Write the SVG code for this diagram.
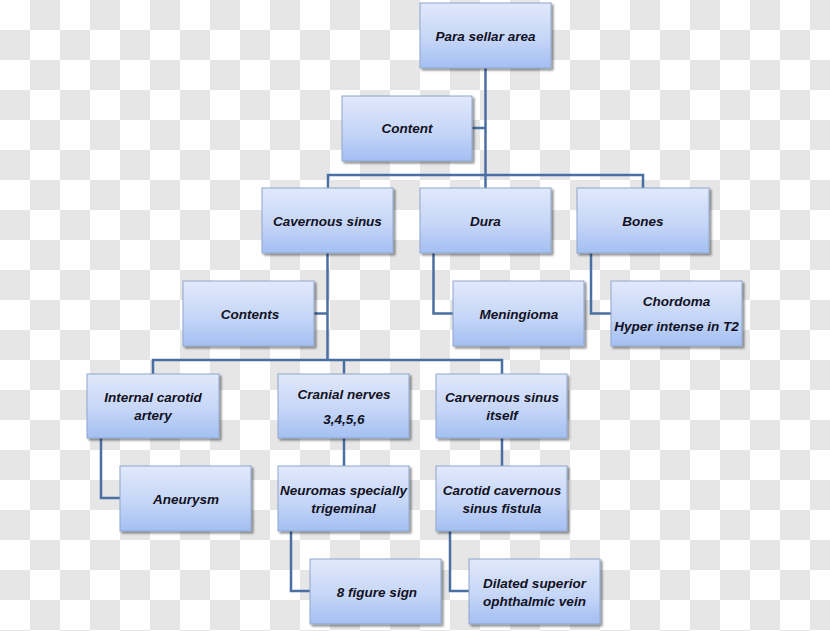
<svg xmlns="http://www.w3.org/2000/svg" width="830" height="631" viewBox="0 0 830 631">
<defs>
<pattern id="checker" x="0" y="0" width="60" height="60" patternUnits="userSpaceOnUse">
<rect width="60" height="60" fill="#ffffff"/>
<rect x="30" y="0" width="30" height="30" fill="#e6e6e6"/>
<rect x="0" y="30" width="30" height="30" fill="#e6e6e6"/>
</pattern>
<linearGradient id="boxgrad" x1="0" y1="0" x2="0" y2="1">
<stop offset="0" stop-color="#e1e9fb"/>
<stop offset="0.55" stop-color="#c6d6f7"/>
<stop offset="1" stop-color="#a3bff2"/>
</linearGradient>
<filter id="shadow" x="-10%" y="-10%" width="130%" height="130%">
<feGaussianBlur in="SourceAlpha" stdDeviation="1.2"/>
<feOffset dx="1.5" dy="1.5" result="o"/>
<feComponentTransfer><feFuncA type="linear" slope="0.45"/></feComponentTransfer>
<feMerge><feMergeNode/><feMergeNode in="SourceGraphic"/></feMerge>
</filter>
</defs>
<style>
.box{fill:url(#boxgrad);stroke:#8fa6cc;stroke-width:1;filter:url(#shadow)}
.t{font-family:"Liberation Sans",Arial,sans-serif;font-size:13.5px;font-weight:bold;font-style:italic;fill:#111122;text-anchor:middle}
.c{fill:none;stroke:#4a6fa3;stroke-width:2.5}
</style>
<rect width="830" height="631" fill="url(#checker)"/>
<g id="connectors">
<path class="c" d="M485.5 68 V188"/>
<path class="c" d="M328 188 V175 H643 V188"/>
<path class="c" d="M472 128 H485.5"/>
<path class="c" d="M327.5 253 V360"/>
<path class="c" d="M314 313.5 H327.5"/>
<path class="c" d="M153 374 V360 H502 V374"/>
<path class="c" d="M344 360 V374"/>
<path class="c" d="M433.5 253 V313.5 H453"/>
<path class="c" d="M591 253 V313.5 H611"/>
<path class="c" d="M101 438 V498 H120"/>
<path class="c" d="M344 438 V466"/>
<path class="c" d="M291 531 V591 H310"/>
<path class="c" d="M502 438 V466"/>
<path class="c" d="M450 531 V591 H469"/>
</g>
<g id="para"><rect class="box" x="420" y="3" width="131" height="65"/><text class="t" x="485.5" y="40.5">Para sellar area</text></g>
<g id="content"><rect class="box" x="342" y="96" width="130" height="65"/><text class="t" x="407" y="133">Content</text></g>
<g id="cavernous"><rect class="box" x="262" y="188" width="131" height="65"/><text class="t" x="327.5" y="226">Cavernous sinus</text></g>
<g id="dura"><rect class="box" x="420" y="188" width="131" height="65"/><text class="t" x="485.5" y="226">Dura</text></g>
<g id="bones"><rect class="box" x="577" y="188" width="132" height="65"/><text class="t" x="643" y="226">Bones</text></g>
<g id="contents"><rect class="box" x="183" y="281" width="131" height="65"/><text class="t" x="250" y="318.5">Contents</text></g>
<g id="meningioma"><rect class="box" x="453" y="281" width="131" height="65"/><text class="t" x="519" y="318.5">Meningioma</text></g>
<g id="chordoma"><rect class="box" x="611" y="281" width="131" height="65"/><text class="t" x="676.5" y="306">Chordoma</text><text class="t" x="676.5" y="331">Hyper intense in T2</text></g>
<g id="ica"><rect class="box" x="87" y="374" width="132" height="64"/><text class="t" x="153" y="402">Internal carotid</text><text class="t" x="153" y="420">artery</text></g>
<g id="cranial"><rect class="box" x="278" y="374" width="131" height="64"/><text class="t" x="344" y="399">Cranial nerves</text><text class="t" x="344" y="424">3,4,5,6</text></g>
<g id="csitself"><rect class="box" x="436" y="374" width="131" height="64"/><text class="t" x="502" y="402">Carvernous sinus</text><text class="t" x="502" y="420">itself</text></g>
<g id="aneurysm"><rect class="box" x="120" y="466" width="131" height="65"/><text class="t" x="186" y="503.5">Aneurysm</text></g>
<g id="neuromas"><rect class="box" x="278" y="466" width="131" height="65"/><text class="t" x="343.5" y="495">Neuromas specially</text><text class="t" x="343.5" y="513">trigeminal</text></g>
<g id="fistula"><rect class="box" x="436" y="466" width="131" height="65"/><text class="t" x="502" y="495">Carotid cavernous</text><text class="t" x="502" y="513">sinus fistula</text></g>
<g id="eight"><rect class="box" x="310" y="559" width="131" height="65"/><text class="t" x="377" y="596.5">8 figure sign</text></g>
<g id="dilated"><rect class="box" x="469" y="559" width="131" height="65"/><text class="t" x="534.5" y="588">Dilated superior</text><text class="t" x="534.5" y="606">ophthalmic vein</text></g>
</svg>
